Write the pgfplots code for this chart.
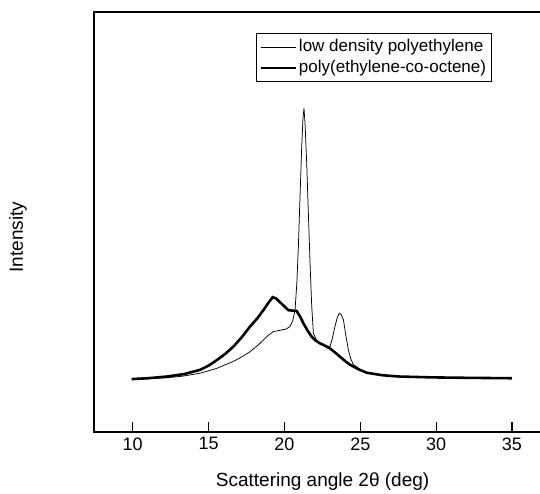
\documentclass[border=0pt]{standalone}
\usepackage{fontspec}
\setmainfont{Liberation Sans}
\usepackage{pgfplots}
\pgfplotsset{compat=1.18}
\begin{document}
\begin{tikzpicture}
\begin{axis}[
  scale only axis,
  width=450bp, height=420bp,
  xmin=7.45, xmax=37.11, ymin=0, ymax=100,
  axis line style={line width=1.1pt},
  xtick={10,15,20,25,30,35},
  xtick pos=bottom,
  xtick align=inside,
  major tick length=10bp,
  xtick style={line width=1.1pt,black},
  ytick=\empty,
  /pgf/number format/assume math mode=true,
  xticklabel style={font=\fontsize{18bp}{20bp}\selectfont, yshift=-2bp},
  xlabel={Scattering angle 2θ (deg)},
  ylabel={Intensity},
  xlabel style={font=\fontsize{19bp}{21bp}\selectfont, at={(axis description cs:0.508,-0.117)}, anchor=center},
  ylabel style={font=\fontsize{19bp}{21bp}\selectfont, at={(axis description cs:-0.169,0.464)}, anchor=center},
  legend style={at={(axis description cs:0.36,0.95)}, anchor=north west,
    font=\fontsize{17bp}{20bp}\selectfont, draw=black, line width=0.8pt,
    inner xsep=3bp, inner ysep=3bp,
    nodes={text height=13bp, text depth=4bp, inner ysep=2bp}},
  legend cell align=left,
  legend image code/.code={\draw[#1] (0bp,0bp) -- (35bp,0bp);},
]
\addplot[black, line width=0.75pt] coordinates {
(9.93,12.6) (11.0,12.7) (12.24,12.9) (13.3,13.3) (14.44,14.0) (15.5,15.1) (16.63,16.8)
(17.2,17.9) (17.73,19.1) (18.3,20.8) (18.83,22.7) (19.27,23.9) (19.82,24.3) (20.1,24.5)
(20.37,25.1) (20.55,26.5) (20.70,29.0) (20.82,35.5) (20.92,44.1) (21.03,56.0) (21.14,67.9)
(21.22,74.5) (21.29,77.1) (21.36,73.5) (21.47,64.0) (21.58,52.0) (21.69,40.2) (21.80,30.0)
(21.91,23.5) (22.1,22.0) (22.35,21.1) (22.7,20.6) (23.0,20.3) (23.15,22.2) (23.33,25.1)
(23.48,27.2) (23.62,28.3) (23.75,27.9) (23.89,26.7) (24.05,23.0) (24.22,19.5) (24.38,17.4)
(24.55,16.0) (25.0,14.9) (25.43,14.1) (26.5,13.5) (27.6,13.2) (29.8,13.0) (32.0,12.9) (35.0,12.8)
};
\addlegendentry{low density polyethylene}
\addplot[black, line width=2.6pt] coordinates {
(9.93,12.6) (11.0,12.8) (12.24,13.2) (13.4,13.8) (14.44,14.8) (15.0,15.8) (15.54,17.1)
(16.1,18.6) (16.63,20.3) (17.2,22.6) (17.73,25.1) (18.2,27.0) (18.61,29.0) (18.95,30.8)
(19.23,32.1) (19.45,31.8) (19.71,30.9) (20.0,29.9) (20.26,29.0) (20.55,28.9) (20.81,28.8)
(21.05,27.4) (21.25,25.9) (21.55,24.0) (21.80,22.7) (22.05,21.8) (22.35,21.1) (22.7,20.5)
(23.0,19.9) (23.35,18.9) (23.67,17.9) (24.0,16.9) (24.33,16.0) (24.9,14.9) (25.43,14.1)
(26.5,13.5) (27.6,13.2) (29.8,13.0) (32.0,12.9) (35.0,12.8)
};
\addlegendentry{poly(ethylene-co-octene)}
\end{axis}
\pgfresetboundingbox
\path ([xshift=-94bp,yshift=-62bp]current axis.south west) rectangle ([xshift=-4bp,yshift=12bp]current axis.north east);
\end{tikzpicture}
\end{document}
